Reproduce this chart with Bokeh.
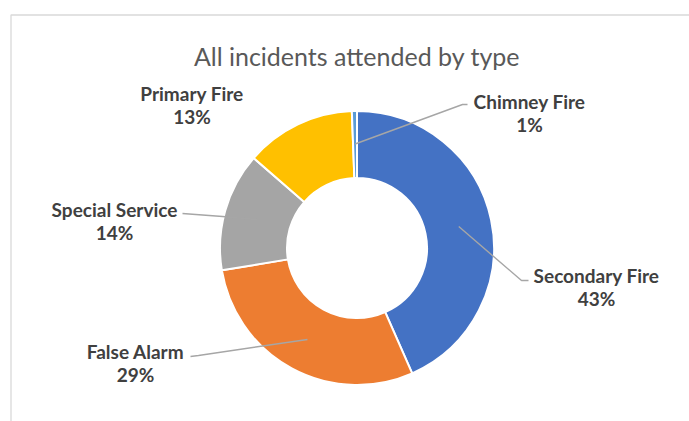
import math
from bokeh.plotting import figure
from bokeh.models import Range1d
from bokeh.core.properties import value
from bokeh.embed import file_html
from bokeh.resources import INLINE

# ---- data ----
categories = ["Secondary Fire", "False Alarm", "Special Service", "Primary Fire", "Chimney Fire"]
shares = [43.4, 29.0, 14.0, 13.0, 0.6]
colors = ["#4472C4", "#ED7D31", "#A5A5A5", "#FFC000", "#5B9BD5"]
title_text = "All incidents attended by type"

# ---- layout (pixel coords, y measured from top) ----
W, H = 689, 421
CX, CY = 356.5, 247.5
R_OUT, R_IN = 137, 70
R_MID = 104

def Y(ypx):
    return H - ypx

# label centre x, baseline of first line (px from top)
label_pos = {
    "Secondary Fire": (596, 275),
    "False Alarm": (135, 351),
    "Special Service": (114, 209),
    "Primary Fire": (191.5, 93),
    "Chimney Fire": (529, 101),
}
# leader line: elbow point, end point (None = no leader)
leader_pts = {
    "Secondary Fire": [(521, 280), (528, 280)],
    "False Alarm": [(198, 355), (190, 356)],
    "Special Service": [(222, 216), (182, 213)],
    "Primary Fire": None,
    "Chimney Fire": [(462, 104), (467, 104)],
}

p = figure(width=W, height=H, output_backend="svg", toolbar_location=None,
           x_range=Range1d(0, W), y_range=Range1d(0, H), min_border=0)
p.axis.visible = False
p.grid.visible = False
p.outline_line_color = None
p.background_fill_color = "white"
p.border_fill_color = "white"

# chart frame
p.line([10.5, 10.5, W + 5], [Y(H + 5), Y(14.5), Y(14.5)], line_color="#D9D9D9", line_width=1.3)

# title
p.text(x=[CX], y=[Y(55)], text=[title_text], text_align="center", text_baseline="alphabetic",
       text_font=value("Lato"), text_font_size="25px", text_color="#595959")

total = sum(shares)
cum = 0.0
mids = []
for cat, s, c in zip(categories, shares, colors):
    a0 = cum / total * 360.0
    cum += s
    a1 = cum / total * 360.0
    start = math.radians(90 - a0)
    end = math.radians(90 - a1)
    p.annular_wedge(x=CX, y=Y(CY), inner_radius=R_IN, outer_radius=R_OUT,
                    start_angle=start, end_angle=end, direction="clock",
                    fill_color=c, line_color="white", line_width=2)
    mids.append(math.radians(90 - (a0 + a1) / 2))

for cat, s, m in zip(categories, shares, mids):
    pts = leader_pts[cat]
    if pts:
        sx = CX + R_MID * math.cos(m)
        sy = Y(CY) + R_MID * math.sin(m)
        xs = [sx] + [q[0] for q in pts]
        ys = [sy] + [Y(q[1]) for q in pts]
        p.line(xs, ys, line_color="#A6A6A6", line_width=1.4)
    lx, ly = label_pos[cat]
    pct = f"{round(s / total * 100)}%"
    p.text(x=[lx, lx], y=[Y(ly), Y(ly + 23)], text=[cat, pct], text_align="center",
           text_baseline="alphabetic", text_font=value("Lato"), text_font_style="bold",
           text_font_size="19px", text_color="#404040")

open("out.html", "w").write(file_html(p, INLINE))
